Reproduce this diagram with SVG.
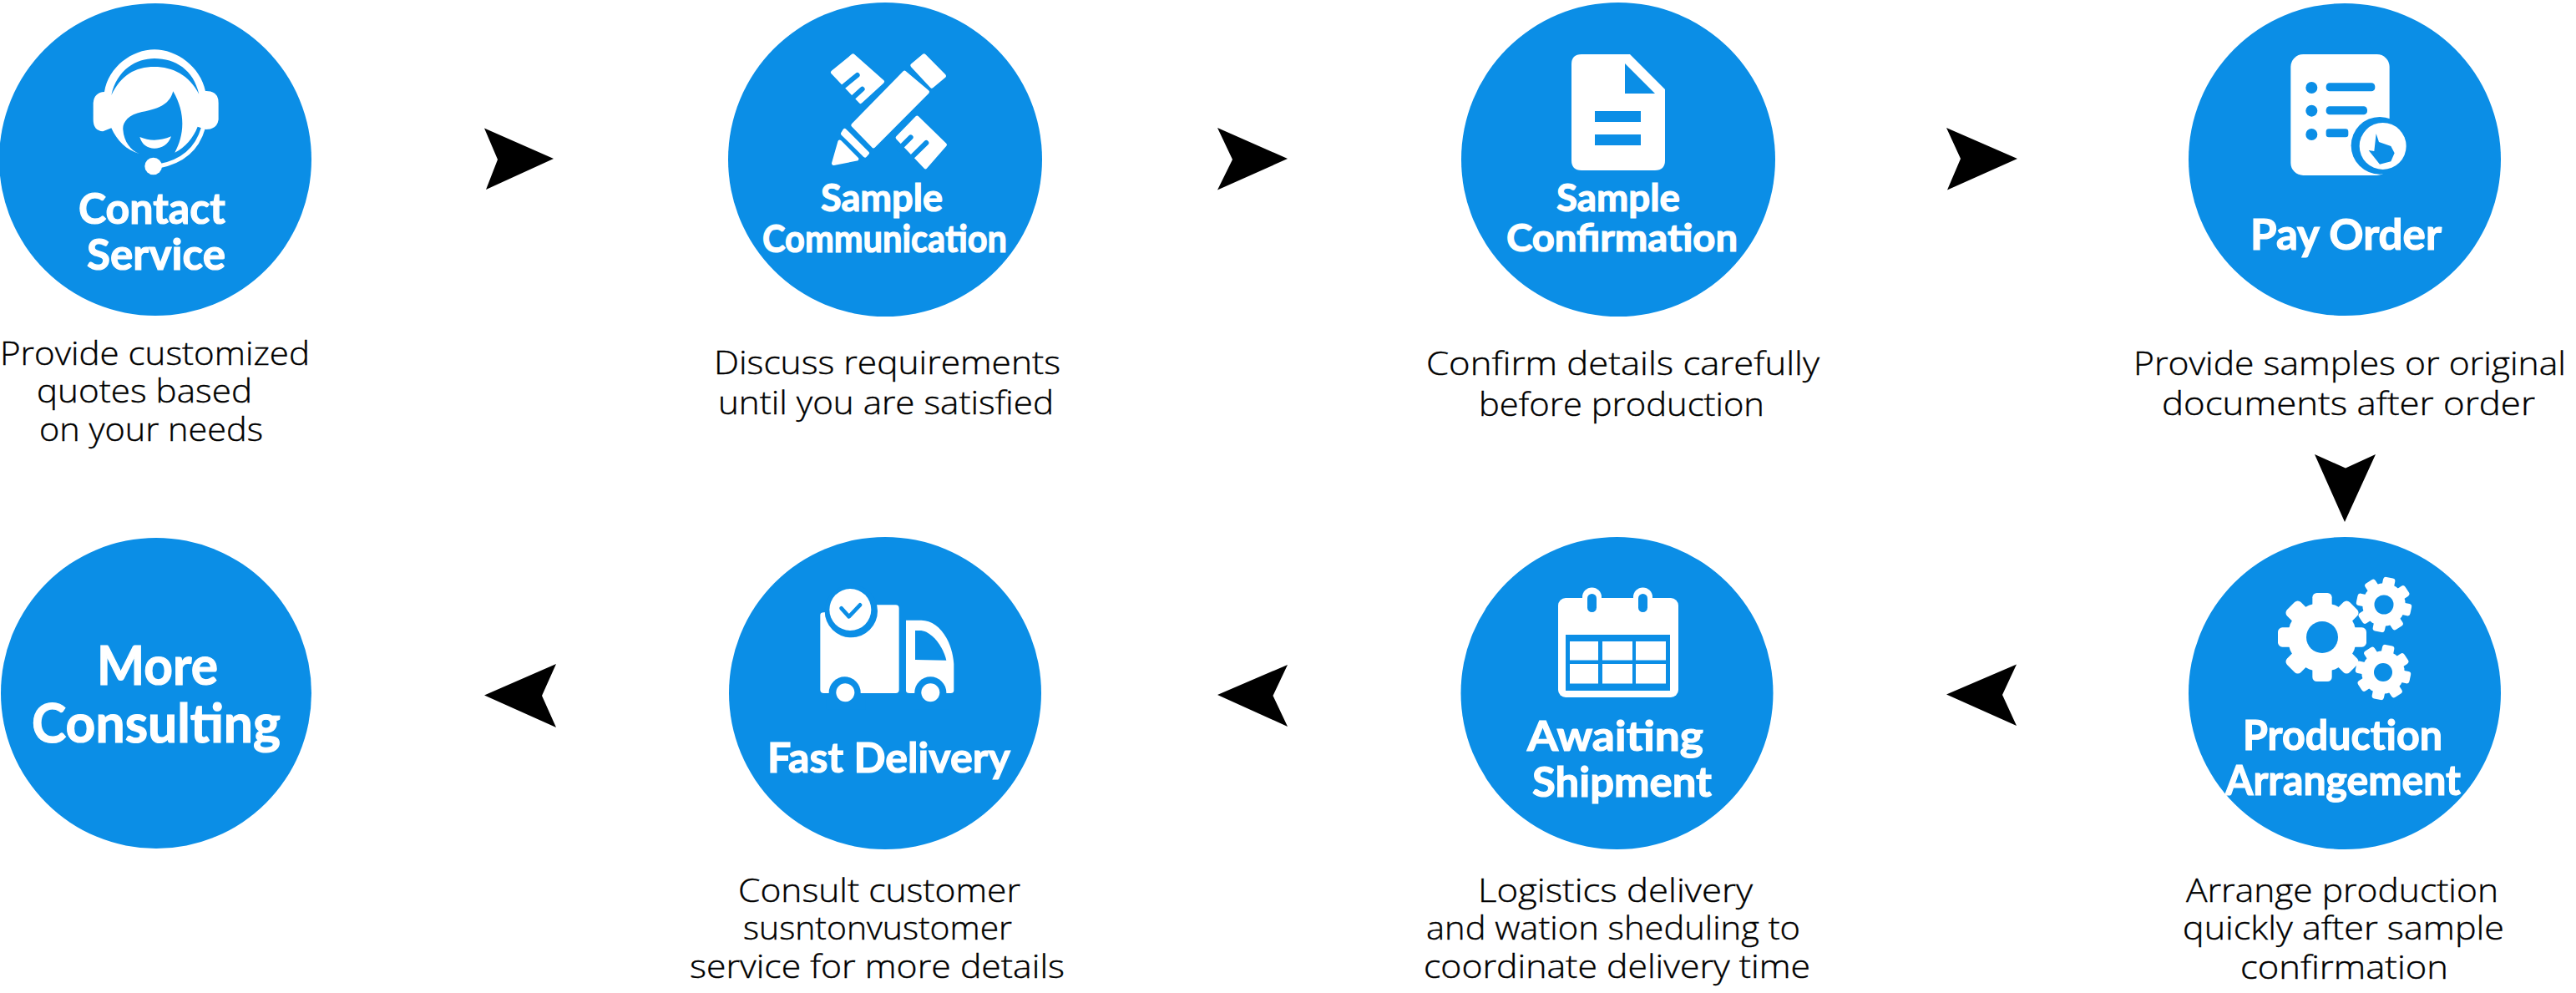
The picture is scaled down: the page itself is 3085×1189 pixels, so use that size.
<svg xmlns="http://www.w3.org/2000/svg" xmlns:xlink="http://www.w3.org/1999/xlink" width="3085" height="1189" viewBox="0 0 3085 1189">
<style>
.c{fill:#0b8ee6}
.w{fill:#fff}
.b{fill:#0b8ee6}
.t{font-family:Lato,"Open Sans","Liberation Sans",sans-serif;font-weight:700;fill:#fff;stroke:#fff;stroke-width:1.2px}
.d{font-family:"Open Sans","Noto Sans","Liberation Sans",sans-serif;font-weight:300;font-size:39px;fill:#000;stroke:#000;stroke-width:.4px}
.a{fill:#000}
</style>
<defs>
<g id="gear">
<circle r="39" fill="#fff"/>
<g fill="#fff">
<rect x="-11" y="-50" width="22" height="24" rx="5"/>
<rect x="-11" y="-50" width="22" height="24" rx="5" transform="rotate(45)"/>
<rect x="-11" y="-50" width="22" height="24" rx="5" transform="rotate(90)"/>
<rect x="-11" y="-50" width="22" height="24" rx="5" transform="rotate(135)"/>
<rect x="-11" y="-50" width="22" height="24" rx="5" transform="rotate(180)"/>
<rect x="-11" y="-50" width="22" height="24" rx="5" transform="rotate(225)"/>
<rect x="-11" y="-50" width="22" height="24" rx="5" transform="rotate(270)"/>
<rect x="-11" y="-50" width="22" height="24" rx="5" transform="rotate(315)"/>
</g>
</g>
</defs>
<rect width="3085" height="1189" fill="#fff"/>

<g id="connectors">
<polygon class="a" points="580,153.5 663,190 582,227 596,191"/>
<polygon class="a" points="1458,153 1542,190 1458,227.5 1476,191"/>
<polygon class="a" points="2331,153 2416,190 2332,227.5 2348,190"/>
<polygon class="a" points="2772,544 2809,560.5 2845,544 2808,625"/>
<polygon class="a" points="2415,795.5 2331,831.5 2415,869 2398,832"/>
<polygon class="a" points="1542,796 1458,832 1542,870 1524.5,833"/>
<polygon class="a" points="666,795 580,832.5 666,871 649,833"/>
</g>

<g id="node-contact-service">
<circle class="c" cx="186" cy="191" r="187"/>
<g transform="translate(90,40) scale(.3333)">
<path class="w" d="M105,210C120,120 205,58 285,58C365,58 450,120 468,207Q515,205 515,250L515,310Q510,345 470,345L440,335C425,375 395,410 358,428C390,370 400,290 352,208C340,250 310,270 240,282C190,292 170,320 172,345C175,390 200,420 230,432C185,420 150,385 130,340L100,352Q65,350 65,310L65,250Q68,212 105,210Z"/>
<path class="b" d="M130,222C150,130 220,90 285,90C360,90 425,130 445,218C410,150 350,120 285,120C215,120 165,150 130,222Z"/>
<path class="w" d="M232,372Q285,395 345,370C335,400 310,413 285,413C260,413 240,400 232,372Z"/>
<path d="M460,340C440,410 390,460 300,477" fill="none" stroke="#fff" stroke-width="15"/>
<circle class="w" cx="281" cy="477" r="31"/>
</g>
<text class="t" font-size="52" x="94" y="268" textLength="176" lengthAdjust="spacingAndGlyphs">Contact</text>
<text class="t" font-size="52" x="104" y="323" textLength="166" lengthAdjust="spacingAndGlyphs">Service</text>
<text class="d" x="0" y="437" textLength="371" lengthAdjust="spacingAndGlyphs">Provide customized</text>
<text class="d" x="44" y="482" textLength="258" lengthAdjust="spacingAndGlyphs">quotes based</text>
<text class="d" x="47" y="528" textLength="268" lengthAdjust="spacingAndGlyphs">on your needs</text>
</g>

<g id="node-sample-communication">
<circle class="c" cx="1060" cy="191" r="188"/>
<g transform="translate(970,45) scale(.3333)">
<g class="w" stroke="#fff" stroke-width="14" stroke-linejoin="round">
<polygon points="340,126 422,195 228,390 155,315"/>
<polygon points="410,65 482,138 438,175 368,100"/>
<polygon points="125,334 206,415 198,424 118,345"/>
<polygon points="107,375 168,436 85,452"/>
<polygon points="82,125 155,65 260,158 182,230"/>
<polygon points="315,360 385,288 485,385 415,465"/>
</g>
<g fill="none" stroke="#0b8ee6" stroke-width="18" stroke-linecap="round">
<path d="M170,135L115,180"/>
<path d="M188,185L150,220"/>
<path d="M362,358L320,400"/>
<path d="M418,378L365,430"/>
</g>
</g>
<text class="t" font-size="45" x="983" y="253" textLength="146" lengthAdjust="spacingAndGlyphs">Sample</text>
<text class="t" font-size="45" x="913" y="302" textLength="293" lengthAdjust="spacingAndGlyphs">Communication</text>
<text class="d" x="855" y="448" textLength="415" lengthAdjust="spacingAndGlyphs">Discuss requirements</text>
<text class="d" x="860" y="496" textLength="402" lengthAdjust="spacingAndGlyphs">until you are satisfied</text>
</g>

<g id="node-sample-confirmation">
<circle class="c" cx="1938" cy="191" r="188"/>
<path class="w" d="M1894,65L1952,65L1994,107L1994,192Q1994,204 1982,204L1894,204Q1882,204 1882,192L1882,77Q1882,65 1894,65Z"/>
<polygon class="b" points="1946,76 1946,112 1982,112"/>
<rect class="b" x="1910" y="133" width="55" height="13"/>
<rect class="b" x="1910" y="161" width="55" height="13"/>
<text class="t" font-size="45" x="1864" y="253" textLength="148" lengthAdjust="spacingAndGlyphs">Sample</text>
<text class="t" font-size="45" x="1804" y="301" textLength="277" lengthAdjust="spacingAndGlyphs">Confirmation</text>
<text class="d" x="1708" y="449" textLength="471" lengthAdjust="spacingAndGlyphs">Confirm details carefully</text>
<text class="d" x="1771" y="498" textLength="342" lengthAdjust="spacingAndGlyphs">before production</text>
</g>

<g id="node-pay-order">
<circle class="c" cx="2808" cy="191" r="187"/>
<g transform="translate(2735,55) scale(.3333)">
<rect class="w" x="25" y="30" width="355" height="435" rx="45"/>
<rect class="b" x="152" y="133" width="176" height="30" rx="13"/>
<rect class="b" x="152" y="217" width="148" height="30" rx="13"/>
<rect class="b" x="152" y="298" width="80" height="30" rx="10"/>
<circle class="b" cx="100" cy="150" r="21"/>
<circle class="b" cx="100" cy="233" r="21"/>
<circle class="b" cx="100" cy="318" r="21"/>
<circle class="b" cx="345" cy="358" r="103"/>
<circle class="w" cx="356" cy="360" r="84"/>
<path class="b" d="M332,315L342,345L385,360L398,385L385,415L345,425L305,375L325,378Z"/>
</g>
<text class="t" font-size="52" x="2695" y="299" textLength="229" lengthAdjust="spacingAndGlyphs">Pay Order</text>
<text class="d" x="2555" y="449" textLength="518" lengthAdjust="spacingAndGlyphs">Provide samples or original</text>
<text class="d" x="2589" y="497" textLength="447" lengthAdjust="spacingAndGlyphs">documents after order</text>
</g>

<g id="node-production-arrangement">
<circle class="c" cx="2808" cy="830" r="187"/>
<use xlink:href="#gear" href="#gear" transform="translate(2781,763) scale(1.06)"/>
<circle class="b" cx="2781" cy="763" r="19"/>
<use xlink:href="#gear" href="#gear" transform="translate(2855,724) rotate(12) scale(.66)"/>
<circle class="b" cx="2855" cy="724" r="11.5"/>
<use xlink:href="#gear" href="#gear" transform="translate(2854,805) rotate(12) scale(.66)"/>
<circle class="b" cx="2854" cy="805" r="11"/>
<text class="t" font-size="49" x="2686" y="898" textLength="239" lengthAdjust="spacingAndGlyphs">Production</text>
<text class="t" font-size="49" x="2665" y="952" textLength="282" lengthAdjust="spacingAndGlyphs">Arrangement</text>
<text class="d" x="2618" y="1080" textLength="374" lengthAdjust="spacingAndGlyphs">Arrange production</text>
<text class="d" x="2614" y="1125" textLength="385" lengthAdjust="spacingAndGlyphs">quickly after sample</text>
<text class="d" x="2683" y="1172" textLength="249" lengthAdjust="spacingAndGlyphs">confirmation</text>
</g>

<g id="node-awaiting-shipment">
<circle class="c" cx="1936.5" cy="830" r="187"/>
<rect class="w" x="1866" y="716" width="144" height="119" rx="9"/>
<rect class="w" x="1895" y="703.5" width="23" height="35" rx="11.5"/>
<rect class="w" x="1956" y="703.5" width="23" height="35" rx="11.5"/>
<rect class="b" x="1901" y="711" width="11" height="22" rx="5.5"/>
<rect class="b" x="1962" y="711" width="11" height="22" rx="5.5"/>
<rect class="b" x="1875" y="760" width="125" height="67"/>
<rect class="w" x="1880" y="768" width="34" height="22.5"/>
<rect class="w" x="1919" y="768" width="36" height="22.5"/>
<rect class="w" x="1959" y="768" width="36" height="22.5"/>
<rect class="w" x="1880" y="795" width="34" height="23.5"/>
<rect class="w" x="1919" y="795" width="36" height="23.5"/>
<rect class="w" x="1959" y="795" width="36" height="23.5"/>
<text class="t" font-size="50" x="1829" y="899" textLength="211" lengthAdjust="spacingAndGlyphs">Awaiting</text>
<text class="t" font-size="50" x="1835" y="954" textLength="215" lengthAdjust="spacingAndGlyphs">Shipment</text>
<text class="d" x="1770" y="1080" textLength="329" lengthAdjust="spacingAndGlyphs">Logistics delivery</text>
<text class="d" x="1708" y="1125" textLength="448" lengthAdjust="spacingAndGlyphs">and wation sheduling to</text>
<text class="d" x="1705" y="1171" textLength="463" lengthAdjust="spacingAndGlyphs">coordinate delivery time</text>
</g>

<g id="node-fast-delivery">
<circle class="c" cx="1060" cy="830" r="187"/>
<g transform="translate(970,695) scale(.3333)">
<path class="w" d="M37,125Q37,115 50,115L230,88L308,88Q320,88 320,100L320,393Q320,405 308,405L50,405Q37,405 37,393Z"/>
<path class="w" d="M345,143L400,143C460,143 510,210 517,300L517,395Q517,405 505,405L358,405Q345,405 345,395Z"/>
<path class="b" d="M378,180L400,180C440,185 480,240 490,287L378,285Z"/>
<circle class="b" cx="125" cy="403" r="57"/>
<circle class="b" cx="433" cy="403" r="57"/>
<rect class="c" x="60" y="405" width="140" height="60"/>
<rect class="c" x="370" y="405" width="130" height="60"/>
<circle class="w" cx="127" cy="403" r="33"/>
<circle class="w" cx="433" cy="403" r="33"/>
<circle class="b" cx="148" cy="110" r="95"/>
<circle class="w" cx="145" cy="105" r="75"/>
<path d="M113,100L140,130L180,88" fill="none" stroke="#0b8ee6" stroke-width="14" stroke-linecap="round" stroke-linejoin="round"/>
</g>
<text class="t" font-size="50" x="919" y="925" textLength="291" lengthAdjust="spacingAndGlyphs">Fast Delivery</text>
<text class="d" x="884" y="1080" textLength="338" lengthAdjust="spacingAndGlyphs">Consult customer</text>
<text class="d" x="890" y="1125" textLength="322" lengthAdjust="spacingAndGlyphs">susntonvustomer</text>
<text class="d" x="826" y="1171" textLength="449" lengthAdjust="spacingAndGlyphs">service for more details</text>
</g>

<g id="node-more-consulting">
<circle class="c" cx="187" cy="830" r="186"/>
<text class="t" font-size="65" x="116" y="820" textLength="145" lengthAdjust="spacingAndGlyphs">More</text>
<text class="t" font-size="65" x="38" y="889" textLength="298" lengthAdjust="spacingAndGlyphs">Consulting</text>
</g>
</svg>
